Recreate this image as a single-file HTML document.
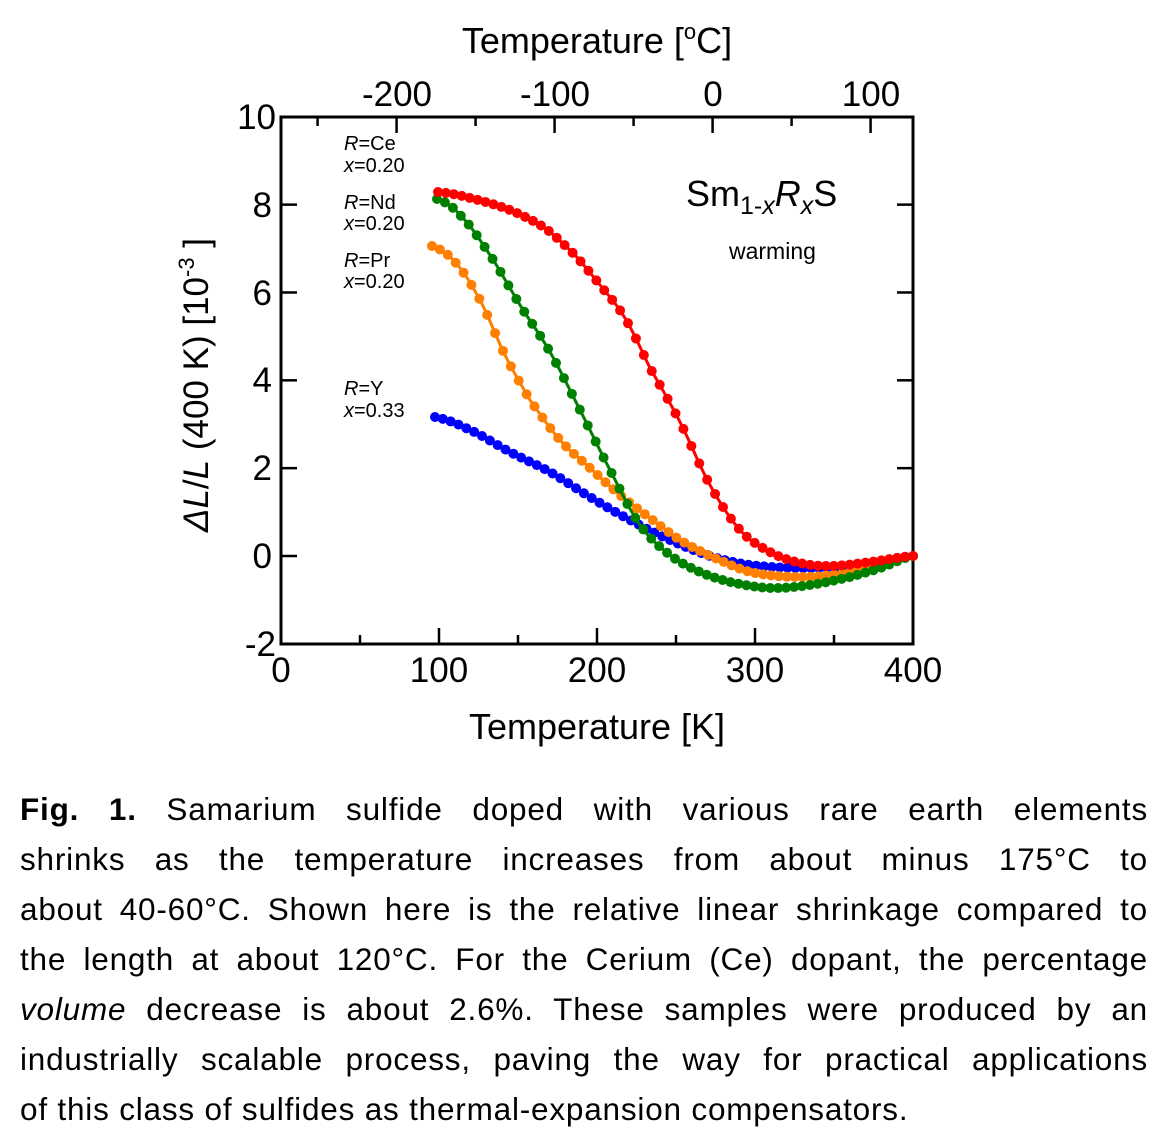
<!DOCTYPE html>
<html><head><meta charset="utf-8"><style>
body{margin:0;width:1164px;height:1138px;background:#fff;overflow:hidden;font-family:"Liberation Sans",sans-serif;}
svg{position:absolute;left:0;top:0}
#cap{position:absolute;left:20px;top:784px;width:1128px;font-size:31.5px;line-height:50px;color:#000;letter-spacing:0.8px}
#cap div{text-align:justify;text-align-last:justify;white-space:nowrap;height:50px}
#cap div.l{text-align-last:left}
</style></head><body>
<svg width="1164" height="780" id="s" font-family="Liberation Sans, sans-serif">
<g stroke="#000" stroke-width="3" fill="none">
<rect x="281" y="117" width="632" height="527"/>
</g>
<g id="ticks" stroke="#000" stroke-width="2.5"></g>
<g id="data"></g>
<g font-size="35" text-anchor="middle" fill="#000">
<text x="281" y="682">0</text><text x="439" y="682">100</text><text x="597" y="682">200</text><text x="755" y="682">300</text><text x="913" y="682">400</text>
<text x="397" y="106">-200</text><text x="555" y="106">-100</text><text x="713" y="106">0</text><text x="871" y="106">100</text>
</g>
<g font-size="35" text-anchor="end" fill="#000">
<text x="276" y="129">10</text><text x="272" y="217">8</text><text x="272" y="305">6</text><text x="272" y="392">4</text><text x="272" y="480">2</text><text x="272" y="568">0</text><text x="276" y="656">-2</text>
</g>
<text x="597" y="739" font-size="36" text-anchor="middle">Temperature [K]</text>
<text x="597" y="53" font-size="36" text-anchor="middle">Temperature [<tspan font-size="22" dy="-14">o</tspan><tspan dy="14">C]</tspan></text>
<text transform="translate(208,385) rotate(-90)" font-size="35" text-anchor="middle"><tspan font-style="italic">ΔL</tspan>/<tspan font-style="italic">L</tspan> (400 K) [10<tspan font-size="22" dy="-14">-3</tspan><tspan dy="14"> ]</tspan></text>
<g font-size="20" fill="#000">
<text x="344" y="150"><tspan font-style="italic">R</tspan>=Ce</text><text x="344" y="172"><tspan font-style="italic">x</tspan>=0.20</text>
<text x="344" y="209"><tspan font-style="italic">R</tspan>=Nd</text><text x="344" y="230"><tspan font-style="italic">x</tspan>=0.20</text>
<text x="344" y="267"><tspan font-style="italic">R</tspan>=Pr</text><text x="344" y="288"><tspan font-style="italic">x</tspan>=0.20</text>
<text x="344" y="395"><tspan font-style="italic">R</tspan>=Y</text><text x="344" y="417"><tspan font-style="italic">x</tspan>=0.33</text>
</g>
<text x="686" y="206" font-size="36">Sm<tspan font-size="25" dy="8">1-<tspan font-style="italic">x</tspan></tspan><tspan dy="-8" font-style="italic">R</tspan><tspan font-size="25" dy="8" font-style="italic">x</tspan><tspan dy="-8">S</tspan></text>
<text x="729" y="259" font-size="23">warming</text>
</svg>
<div id="cap">
<div><b>Fig. 1.</b> Samarium sulfide doped with various rare earth elements</div>
<div>shrinks as the temperature increases from about minus 175°C to</div>
<div>about 40-60°C. Shown here is the relative linear shrinkage compared to</div>
<div>the length at about 120°C. For the Cerium (Ce) dopant, the percentage</div>
<div><i>volume</i> decrease is about 2.6%. These samples were produced by an</div>
<div>industrially scalable process, paving the way for practical applications</div>
<div class="l">of this class of sulfides as thermal-expansion compensators.</div>
</div>
<script>
var NS="http://www.w3.org/2000/svg";
function el(p,t,a){var e=document.createElementNS(NS,t);for(var k in a)e.setAttribute(k,a[k]);p.appendChild(e);return e;}
var T=document.getElementById("ticks");
for(var k=0;k<=400;k+=50){var x=281+k*1.58,L=(k%100==0)?16:9;el(T,"line",{x1:x,y1:644,x2:x,y2:644-L});}
for(var c=-250;c<=125;c+=50){var x=281+(c+273.15)*1.58;if(x>913)continue;var L=(c%100==0)?16:9;el(T,"line",{x1:x,y1:117,x2:x,y2:117+L});}
for(var v=-2;v<=10;v+=2){var y=556-v*43.92;el(T,"line",{x1:281,y1:y,x2:297,y2:y});el(T,"line",{x1:913,y1:y,x2:897,y2:y});}
var S={
"#0000ff":[[435,417],[470,430],[510,452],[550,472],[590,497],[630,520],[670,540],[710,556],[750,565],[800,568],[850,566],[913,556]],
"#ff8000":[[432,246],[455,262],[480,300],[505,355],[530,400],[560,440],[590,468],[620,495],[650,518],[680,540],[710,556],[750,572],[800,577],[850,572],[913,556]],
"#008000":[[437,199],[460,215],[490,255],[520,305],[550,352],[580,410],[610,470],[640,525],[670,555],[700,572],[730,582],[770,588],[810,585],[850,577],[880,568],[913,556]],
"#ff0000":[[438,192],[470,198],[510,210],[545,228],[575,255],[600,285],[625,318],[650,368],[680,422],[710,485],[740,530],[770,552],[800,563],[830,566],[870,562],[913,556]]
};
function interp(P,x){for(var i=0;i<P.length-1;i++){if(x<=P[i+1][0]){var p0=P[Math.max(i-1,0)],p1=P[i],p2=P[i+1],p3=P[Math.min(i+2,P.length-1)];var t=(x-p1[0])/(p2[0]-p1[0]);var t2=t*t,t3=t2*t;return 0.5*((2*p1[1])+(-p0[1]+p2[1])*t+(2*p0[1]-5*p1[1]+4*p2[1]-p3[1])*t2+(-p0[1]+3*p1[1]-3*p2[1]+p3[1])*t3);}}return P[P.length-1][1];}
var D=document.getElementById("data");
for(var col in S){var P=S[col];var pts=[];var x0=P[0][0],x1=P[P.length-1][0];
for(var x=x0;x<=x1;x+=2)pts.push(x+","+interp(P,x).toFixed(1));
el(D,"polyline",{points:pts.join(" "),fill:"none",stroke:col,"stroke-width":3});
var n=Math.round((x1-x0)/7.9);for(var i=0;i<=n;i++){var x=x0+(x1-x0)*i/n;el(D,"circle",{cx:x,cy:interp(P,x),r:5,fill:col});}}
</script>
</body></html>
